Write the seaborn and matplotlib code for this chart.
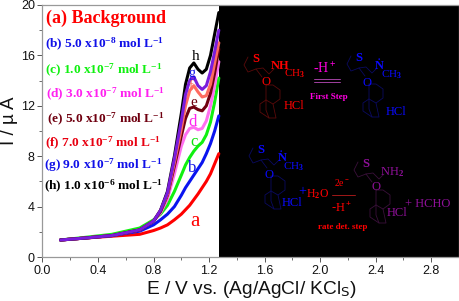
import matplotlib
matplotlib.use("Agg")
import matplotlib.pyplot as plt
from matplotlib.transforms import Affine2D
import seaborn as sns

sns.set_style("ticks")
plt.rcParams.update({
    "font.family": "Liberation Sans",
    "mathtext.fontset": "custom",
    "mathtext.rm": "Liberation Serif:bold",
    "mathtext.it": "Liberation Serif:bold",
    "mathtext.bf": "Liberation Serif:bold",
})

potential = [0.13, 0.3, 0.5, 0.7, 0.8, 0.85, 0.9, 0.95, 1.0, 1.03, 1.06,
             1.09, 1.12, 1.15, 1.18, 1.21, 1.24, 1.27]
curve_a = [1.35, 1.5, 1.65, 1.8, 2.1, 2.3, 2.55, 2.95, 3.4, 3.75, 4.1, 4.55, 5.0, 5.5, 6.0, 6.6, 7.4, 8.2]
curve_b = [1.35, 1.5, 1.7, 2.05, 2.55, 2.95, 3.4, 4.0, 4.9, 5.5, 6.0, 6.5, 7.0, 7.5, 8.2, 9.0, 10.0, 11.2]
curve_c = [1.35, 1.55, 1.8, 2.3, 2.95, 3.4, 4.1, 5.2, 6.5, 7.3, 7.9, 8.4, 8.8, 9.1, 9.7, 10.7, 12.3, 14.2]
curve_d = [1.35, 1.5, 1.7, 2.15, 2.85, 3.5, 4.6, 6.6, 8.8, 9.7, 10.2, 10.3, 10.1, 10.2, 10.8, 12.0, 13.6, 15.5]
curve_e = [1.35, 1.5, 1.7, 2.15, 2.85, 3.6, 4.9, 7.2, 9.6, 11.0, 11.8, 11.9, 11.7, 11.6, 12.0, 13.0, 14.6, 16.5]
curve_f = [1.35, 1.5, 1.7, 2.15, 2.85, 3.7, 5.0, 7.5, 10.2, 12.0, 13.2, 13.6, 13.1, 12.7, 12.8, 13.7, 15.4, 17.0]
curve_g = [1.35, 1.5, 1.7, 2.15, 2.85, 3.7, 5.1, 7.8, 10.8, 12.9, 14.0, 14.3, 13.6, 13.3, 13.6, 14.7, 16.3, 18.0]
curve_h = [1.35, 1.5, 1.7, 2.15, 2.85, 3.7, 5.2, 8.0, 11.4, 13.7, 15.0, 15.4, 14.9, 14.6, 14.9, 16.0, 17.7, 19.4]

series = [("a", curve_a, "#ff0000"), ("b", curve_b, "#0a14f0"), ("c", curve_c, "#10f010"),
          ("d", curve_d, "#ff70f0"), ("e", curve_e, "#700010"), ("f", curve_f, "#ff6a60"),
          ("h", curve_h, "#000000"), ("g", curve_g, "#7a1cdc")]

legend_labels = ["(a) Background", "(b) 5.0 x10$^{-8}$ mol L$^{-1}$", "(c) 1.0 x10$^{-7}$ mol L$^{-1}$",
                 "(d) 3.0 x10$^{-7}$ mol L$^{-1}$", "(e) 5.0 x10$^{-7}$ mol L$^{-1}$",
                 "(f) 7.0 x10$^{-7}$ mol L$^{-1}$", "(g) 9.0 x10$^{-7}$ mol L$^{-1}$",
                 "(h) 1.0 x10$^{-6}$ mol L$^{-1}$"]
legend_colors = ["#ff0000", "#1010e8", "#10f010", "#ff20f0", "#700010", "#e80010", "#1010e8", "#000000"]
x_ticks = [0.0, 0.4, 0.8, 1.2, 1.6, 2.0, 2.4, 2.8]
y_ticks = [0, 4, 8, 12, 16, 20]

fig = plt.figure(figsize=(4.6, 3.01), dpi=100)
ax = fig.add_axes([42.5 / 460, 44 / 301, 416.5 / 460, 252 / 301])
px = Affine2D().scale(1 / 460, -1 / 301).translate(0, 1) + fig.transFigure

ax.axvspan(1.27, 3.0, color="black", zorder=1, lw=0)
for name, values, color in series:
    sns.lineplot(x=potential, y=values, color=color, lw=2.2, ax=ax, zorder=3, errorbar=None)

ax.set_xlim(0, 3.0)
ax.set_ylim(0, 20)
ax.set_xticks(x_ticks)
ax.set_xticklabels([f"{t:.1f}" for t in x_ticks], fontsize=9)
ax.set_yticks(y_ticks)
ax.set_yticklabels([str(t) for t in y_ticks], fontsize=9)
ax.set_xticks([t + 0.2 for t in x_ticks], minor=True)
ax.set_yticks([t + 2 for t in y_ticks[:-1]], minor=True)
ax.tick_params(axis="both", which="major", length=3.5, width=0.7, pad=2, color="#555555", labelcolor="#111111")
ax.tick_params(axis="both", which="minor", length=2, width=0.6, color="#555555", left=True, bottom=True)
for side in ax.spines.values():
    side.set_color("#999999")
    side.set_linewidth(0.9)
    side.set_zorder(5)

fig.text(146, 290, "E / V vs. (Ag/AgCl/ KCl$_{\\mathsf{S}}$)", transform=px, fontsize=13.8, va="center", color="#111111")
fig.text(10, 121, "I / µ A", transform=px, fontsize=13.5, rotation=90, va="center", ha="center", color="#111111")

serif = "Liberation Serif"
legend_pos = [(46, 18), (45, 44), (45, 70), (46, 94), (47, 119), (45, 143), (44, 165), (44, 186)]
for i, (label, color, (x0, y0)) in enumerate(zip(legend_labels, legend_colors, legend_pos)):
    fig.text(x0, y0, label, transform=px, family=serif, weight="bold", color=color,
             fontsize=13 if i == 0 else 9.6, va="center", zorder=6)

curve_letters = [("a", 195, 222, "#ff0000", 15), ("b", 192, 168, "#1010e8", 12), ("c", 194, 142, "#10e010", 12),
                 ("d", 193, 122, "#ff20f0", 12), ("e", 194, 102, "#700010", 11), ("f", 191, 87, "#ff6a60", 10),
                 ("g", 192, 73, "#1010e8", 10), ("h", 196, 56, "#000000", 11)]
for letter, lx, ly, color, size in curve_letters:
    fig.text(lx, ly, letter, transform=px, family=serif, color=color, fontsize=size,
             ha="center", va="center", zorder=6)


def molecule(dx, dy, color):
    paths = [
        [(248, 57), (244, 65), (248, 72), (256, 69)],
        [(256, 69), (263, 68), (269, 74), (274, 69)],
        [(256, 69), (262, 77)],
        [(266, 85), (273, 85), (280, 90), (280, 99), (273, 104), (266, 100), (266, 90), (266, 85)],
        [(266, 100), (266, 110), (269, 118), (276, 118), (273, 104)],
        [(266, 100), (260, 104), (260, 112), (269, 118)],
    ]
    for path in paths:
        fig.add_artist(plt.Line2D([p[0] + dx for p in path], [p[1] + dy for p in path],
                                  transform=px, color=color, lw=0.6, zorder=6))


def note(x, y, s, color, size=9, weight="normal"):
    fig.text(x, y, s, transform=px, family=serif, color=color, fontsize=size, weight=weight,
             ha="center", va="center", zorder=7)


dark_red, red, blue, dark_blue, pink, purple, dark_purple = ("#5a0a0a", "#ff0000", "#0a0aff", "#0a0a60",
                                                              "#ff00e0", "#90109a", "#3a103a")
molecule(0, 0, dark_red)
note(256, 59, "S", red, 9, "bold")
note(280, 66, "NH", red, 9, "bold")
note(295, 74, "CH$_3$", red, 8)
note(266, 82, "O", red, 9)
note(294, 106, "HCl", red, 9)
note(325, 69, "-H$^+$", pink, 10)
note(329, 97, "First Step", pink, 6.5, "bold")
fig.add_artist(plt.Line2D([314, 340], [79, 79], transform=px, color="#a040a0", lw=0.7, zorder=6))
fig.add_artist(plt.Line2D([314, 340], [82, 82], transform=px, color="#a040a0", lw=0.7, zorder=6))

molecule(103, -1, dark_blue)
note(359, 58, "S", blue, 9, "bold")
note(379, 66, "N", blue, 9, "bold")
note(379, 57, ".", blue, 7, "bold")
note(392, 75, "CH$_3$", blue, 8)
note(367, 83, "O", blue, 9)
note(396, 112, "HCl", blue, 9)

molecule(5, 91, dark_blue)
note(261, 150, "S", blue, 9, "bold")
note(282, 158, "N", blue, 9, "bold")
note(281, 149, ".", blue, 7, "bold")
note(294, 167, "CH$_3$", blue, 8)
note(269, 175, "O", blue, 9)
note(292, 203, "HCl", blue, 9)
note(302, 192, "+", blue, 10)
note(318, 194, "H$_2$O", red, 8.5)
note(342, 183, "2e$^-$", red, 7)
note(342, 208, "-H$^+$", red, 9)
note(343, 227, "rate det. step", red, 6.5, "bold")
fig.add_artist(plt.Line2D([332, 355], [195, 195], transform=px, color="#a01818", lw=0.7, zorder=6))

molecule(110, 105, dark_purple)
note(366, 164, "S", purple, 9, "bold")
note(392, 172, "NH$_2$", purple, 9)
note(376, 187, "O", purple, 9)
note(397, 213, "HCl", purple, 9)
note(428, 204, "+ HCHO", purple, 9)

fig.savefig("out.png", dpi=100)
